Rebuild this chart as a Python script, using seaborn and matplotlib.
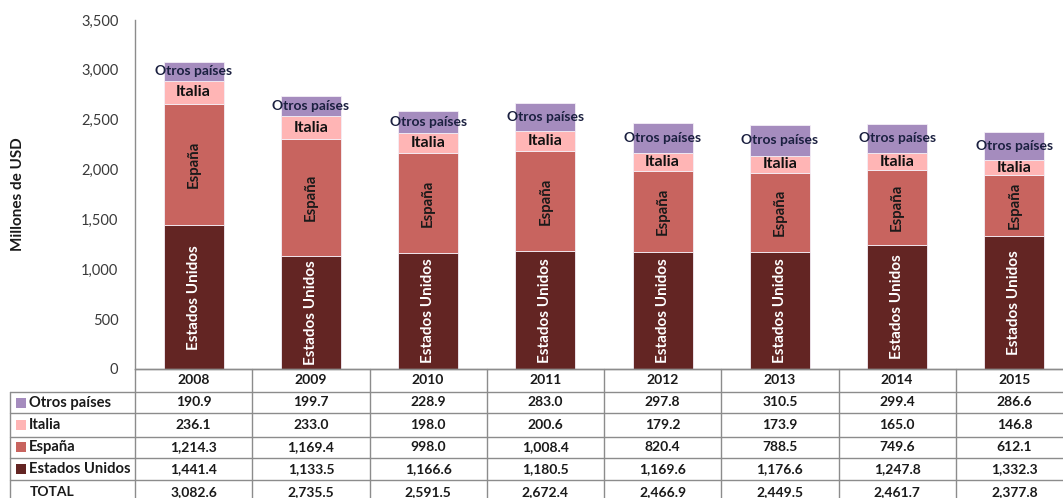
import matplotlib
matplotlib.use("Agg")
import matplotlib.pyplot as plt
import seaborn as sns
from matplotlib.lines import Line2D
from matplotlib.patches import Rectangle
import matplotlib.transforms as mtransforms

years = ["2008", "2009", "2010", "2011", "2012", "2013", "2014", "2015"]
estados_unidos = [1441.4, 1133.5, 1166.6, 1180.5, 1169.6, 1176.6, 1247.8, 1332.3]
espana = [1214.3, 1169.4, 998.0, 1008.4, 820.4, 788.5, 749.6, 612.1]
italia = [236.1, 233.0, 198.0, 200.6, 179.2, 173.9, 165.0, 146.8]
otros = [190.9, 199.7, 228.9, 283.0, 297.8, 310.5, 299.4, 286.6]
total = [3082.6, 2735.5, 2591.5, 2672.4, 2466.9, 2449.5, 2461.7, 2377.8]

series_names = ["Estados Unidos", "España", "Italia", "Otros países"]
series_vals = [estados_unidos, espana, italia, otros]
colors = ["#632523", "#C8645F", "#FFB5B5", "#A58CBE"]
yticks = [0, 500, 1000, 1500, 2000, 2500, 3000, 3500]

sns.set_theme(style="white")
plt.rcParams["font.family"] = ["Lato", "DejaVu Sans"]

W, H = 1063, 498
fig = plt.figure(figsize=(W / 100, H / 100), dpi=100)
ax_left, ax_right, ax_top, ax_bot = 135, 1073, 20, 369
ax = fig.add_axes([ax_left / W, (H - ax_bot) / H, (ax_right - ax_left) / W, (ax_bot - ax_top) / H])

bottom = [0.0] * len(years)
for name, vals, col in zip(series_names, series_vals, colors):
    sns.barplot(x=years, y=vals, bottom=bottom, color=col, width=0.51,
                ax=ax, edgecolor="#f4eef6", linewidth=0.6, saturation=1)
    bottom = [b + v for b, v in zip(bottom, vals)]

ax.set_xlim(-0.5, 7.5)
ax.set_ylim(0, 3500)
ax.set_yticks(yticks)
ax.set_yticklabels([f"{v:,}" for v in yticks])
ax.tick_params(axis="y", length=0, pad=12, labelsize=10.5, labelcolor="#3a3a3a")
ax.tick_params(axis="x", length=0, labelbottom=False)
ax.set_xlabel("")
ax.set_ylabel("Millones de USD", fontsize=11, fontweight="bold", color="#1a1a1a")
ax.yaxis.set_label_coords((25 - ax_left) / (ax_right - ax_left), 0.5)
for s in ["top", "right"]:
    ax.spines[s].set_visible(False)
for s in ["left", "bottom"]:
    ax.spines[s].set_color("#8c8c8c")
    ax.spines[s].set_linewidth(1.0)

# labels inside bars
for i in range(len(years)):
    base = 0.0
    for k, (name, vals) in enumerate(zip(series_names, series_vals)):
        v = vals[i]
        mid = base + v / 2
        if name == "Estados Unidos":
            ax.text(i, mid, name, rotation=90, ha="center", va="center",
                    color="white", fontsize=11, fontweight="bold")
        elif name == "España":
            ax.text(i, mid, name, rotation=90, ha="center", va="center",
                    color="#1a1a1a", fontsize=10.8, fontweight="bold")
        elif name == "Italia":
            ax.text(i, mid, name, ha="center", va="center",
                    color="#111111", fontsize=11.5, fontweight="bold")
        else:
            ax.text(i, mid, name, ha="center", va="center",
                    color="#1b2040", fontsize=10, fontweight="bold")
        base += v

# data table under the chart
trans = mtransforms.blended_transform_factory(ax.transData, ax.transAxes)
def yf(px):
    return (ax_bot - px) / (ax_bot - ax_top)

def xd(px):
    return -0.5 + (px - ax_left) / ((ax_right - ax_left) / 8)

grid_c = "#8c8c8c"
row_edges = [369, 392, 413, 436.5, 458, 480, 505]
label_left = xd(10)

for j, r in enumerate(row_edges):
    x0 = -0.5 if j == 0 else label_left
    ax.add_line(Line2D([x0, 7.5], [yf(r), yf(r)], transform=trans, color=grid_c,
                       lw=1.0, clip_on=False))
for k in range(9):
    ax.add_line(Line2D([k - 0.5, k - 0.5], [yf(369), yf(505)], transform=trans,
                       color=grid_c, lw=1.0, clip_on=False))
ax.add_line(Line2D([label_left, label_left], [yf(392), yf(505)], transform=trans,
                   color=grid_c, lw=1.0, clip_on=False))

txt_c = "#1a1a1a"
fs_tab = 10
hc = yf((369 + 392) / 2)
for i, y in enumerate(years):
    ax.text(i, hc, y, transform=trans, ha="center", va="center", fontsize=fs_tab,
            fontweight="bold", color=txt_c)

table_rows = [("Otros países", otros, colors[3]), ("Italia", italia, colors[2]),
              ("España", espana, colors[1]), ("Estados Unidos", estados_unidos, colors[0]),
              ("TOTAL", total, None)]
for j, (name, vals, col) in enumerate(table_rows):
    yc = yf((row_edges[j + 1] + row_edges[j + 2]) / 2)
    if col is not None:
        sq = 10
        ax_px_h = ax_bot - ax_top
        rect = Rectangle((xd(16), yc - (sq / 2) / ax_px_h), xd(16 + sq) - xd(16), sq / ax_px_h,
                         transform=trans, facecolor=col, edgecolor="none", clip_on=False)
        ax.add_patch(rect)
        ax.text(xd(29), yc, name, transform=trans, ha="left", va="center",
                fontsize=10.6, fontweight="bold", color=txt_c)
    else:
        ax.text(xd(30), yc, name, transform=trans, ha="left", va="center",
                fontsize=fs_tab, fontweight="bold", color=txt_c)
    for i, v in enumerate(vals):
        ax.text(i, yc, f"{v:,.1f}", transform=trans, ha="center", va="center",
                fontsize=fs_tab, fontweight="bold", color=txt_c)

fig.savefig("out.png", dpi=100)
